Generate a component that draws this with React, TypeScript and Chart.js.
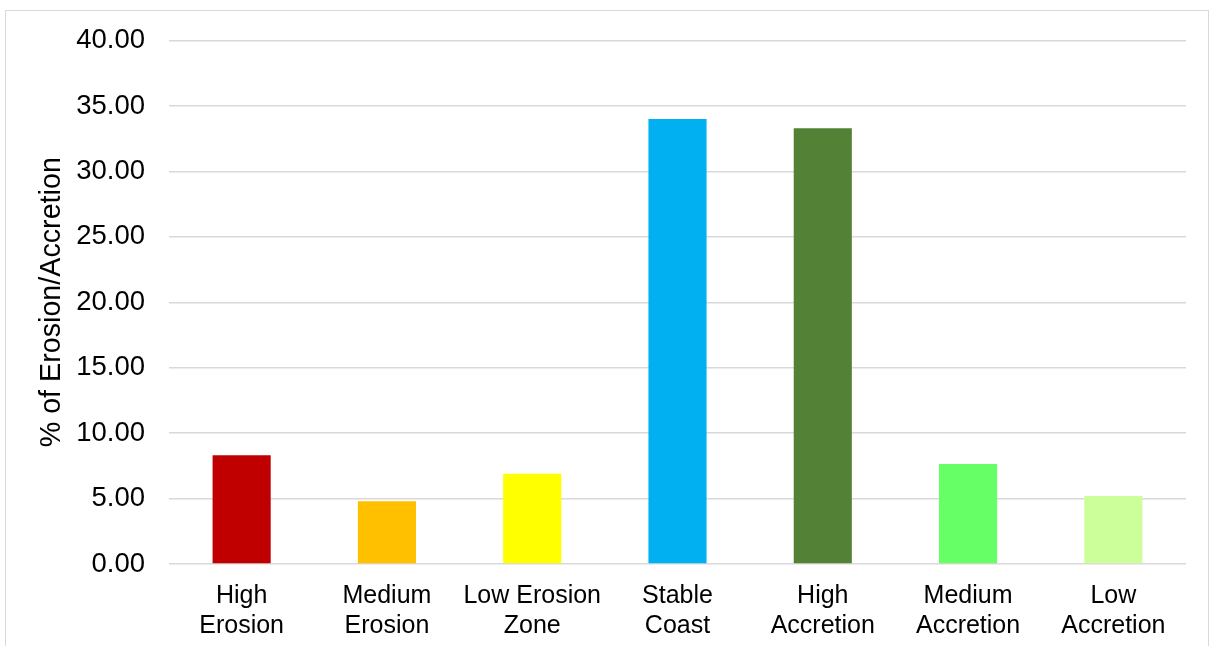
import React, { useEffect, useRef } from "react";
import { Chart, registerables } from "chart.js";

Chart.register(...registerables);

const categories: string[][] = [
  ["High", "Erosion"],
  ["Medium", "Erosion"],
  ["Low Erosion", "Zone"],
  ["Stable", "Coast"],
  ["High", "Accretion"],
  ["Medium", "Accretion"],
  ["Low", "Accretion"],
];
const values: number[] = [8.3, 4.8, 6.9, 34.0, 33.3, 7.65, 5.2];
const barColors: string[] = ["#C00000", "#FFC000", "#FFFF00", "#00B0F0", "#538135", "#66FF66", "#CCFF99"];
const yTitle = "% of Erosion/Accretion";
const yMin = 0;
const yMax = 40;
const yStep = 5;

const FONT = "'Liberation Sans', Arial, sans-serif";

export default function App() {
  const ref = useRef<HTMLCanvasElement | null>(null);
  useEffect(() => {
    if (!ref.current) return;
    const chart = new Chart(ref.current, {
      type: "bar",
      data: {
        labels: categories,
        datasets: [
          {
            data: values,
            backgroundColor: barColors,
            borderWidth: 0,
            barPercentage: 0.4,
            categoryPercentage: 1,
          },
        ],
      },
      options: {
        animation: false,
        responsive: false,
        maintainAspectRatio: false,
        devicePixelRatio: 1,
        layout: { padding: { left: 0, right: 25, top: 38, bottom: 0 } },
        plugins: { legend: { display: false }, tooltip: { enabled: false } },
        scales: {
          x: {
            grid: { display: false, drawTicks: false },
            border: { display: false },
            ticks: {
              color: "#000",
              font: { family: FONT, size: 25, lineHeight: 1.2 },
              padding: 17,
              maxRotation: 0,
              autoSkip: false,
            },
            afterFit: (s: any) => {
              s.height = 82;
            },
          },
          y: {
            min: yMin,
            max: yMax,
            grid: { color: "#d9d9d9", lineWidth: 1.5, drawTicks: false },
            border: { display: false },
            ticks: {
              stepSize: yStep,
              color: "#000",
              font: { family: FONT, size: 27.5 },
              padding: 24,
              callback: (v: any) => Number(v).toFixed(2),
            },
            title: {
              display: true,
              text: yTitle,
              color: "#000",
              font: { family: FONT, size: 28.7, lineHeight: 1.2 },
              padding: { top: 35, bottom: 0 },
            },
            afterFit: (s: any) => {
              s.width = 169;
            },
          },
        },
      },
    });
    return () => chart.destroy();
  }, []);
  return (
    <div style={{ position: "fixed", left: 0, top: 0, width: 1211, height: 646, background: "#fff" }}>
      <div
        style={{
          position: "absolute",
          left: 5,
          top: 10,
          width: 1204,
          height: 650,
          border: "1px solid #d9d9d9",
          boxSizing: "border-box",
        }}
      />
      <canvas ref={ref} width={1211} height={646} style={{ position: "absolute", left: 0, top: 0 }} />
    </div>
  );
}
